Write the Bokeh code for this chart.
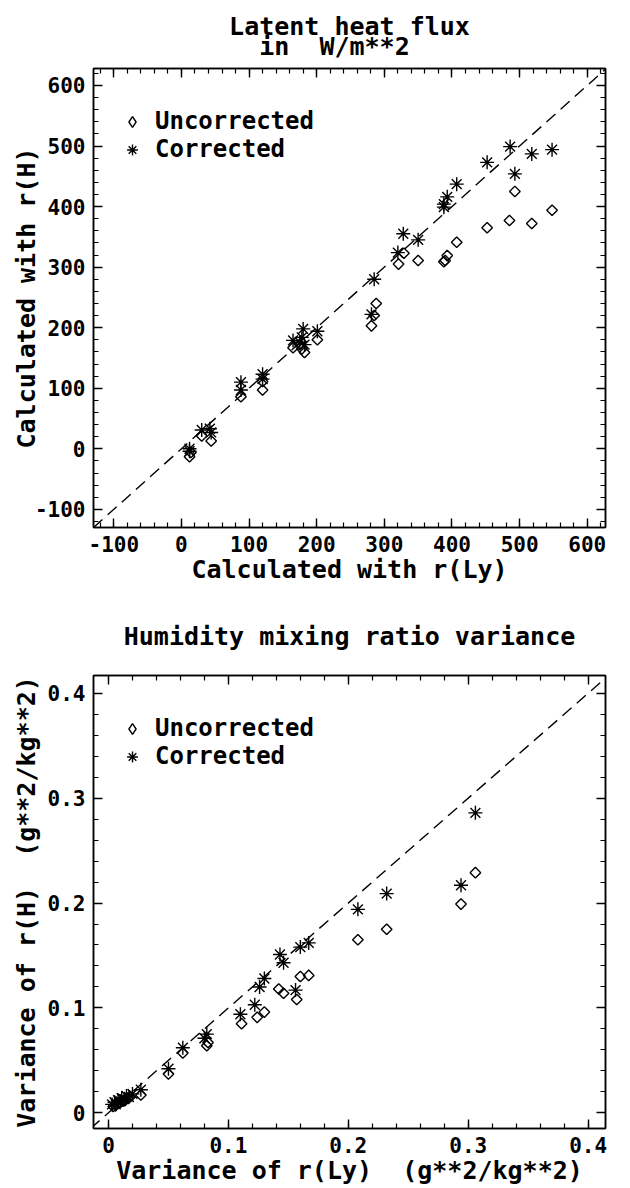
import numpy as np
from bokeh.plotting import figure
from bokeh.models import (Range1d, SingleIntervalTicker, LinearAxis, Slope, Legend,
                          LegendItem, Title, CustomJSTickFormatter)
from bokeh.layouts import column
from bokeh.embed import file_html
from bokeh.resources import INLINE

FONT = "DejaVu Sans Mono"
NB = "\u00a0"  # keeps the plotter's repeated spaces visible

# ---------------- data: latent heat flux (W/m**2) ----------------
flux_unc_x = [12, 14, 30, 44, 88, 120, 120, 165, 175, 178, 182, 201, 281, 285, 288,
              321, 329, 350, 388, 390, 393, 407, 452, 485, 493, 518, 548]
flux_unc_y = [-13, -6, 21, 13, 86, 97, 111, 167, 172, 165, 159, 180, 203, 220, 240,
              305, 323, 311, 309, 311, 319, 341, 365, 377, 425, 372, 394]
flux_corr_x = [12, 12, 30, 42, 44, 88, 88, 120, 120, 165, 175, 178, 180, 182, 201,
               281, 285, 320, 328, 350, 388, 388, 393, 407, 452, 486, 493, 518, 548]
flux_corr_y = [0, -4, 31, 33, 27, 110, 97, 123, 115, 179, 176, 184, 198, 172, 194,
               222, 280, 324, 355, 345, 399, 404, 416, 437, 473, 499, 454, 487, 494]

# ---------------- data: humidity mixing ratio variance (g**2/kg**2) ----------------
var_unc_x = [0.004, 0.006, 0.008, 0.010, 0.012, 0.014, 0.016, 0.018, 0.027, 0.050,
             0.062, 0.082, 0.083, 0.111, 0.124, 0.130, 0.142, 0.146, 0.157, 0.160,
             0.167, 0.208, 0.232, 0.294, 0.306]
var_unc_y = [0.006, 0.007, 0.009, 0.010, 0.011, 0.012, 0.014, 0.015, 0.017, 0.037,
             0.057, 0.064, 0.067, 0.085, 0.091, 0.096, 0.118, 0.114, 0.108, 0.130,
             0.131, 0.165, 0.175, 0.199, 0.229]
var_corr_x = [0.003, 0.005, 0.006, 0.008, 0.010, 0.011, 0.013, 0.015, 0.017, 0.020,
              0.027, 0.050, 0.062, 0.080, 0.082, 0.110, 0.122, 0.126, 0.130, 0.143,
              0.146, 0.156, 0.160, 0.167, 0.208, 0.232, 0.294, 0.306]
var_corr_y = [0.008, 0.010, 0.008, 0.012, 0.011, 0.014, 0.013, 0.016, 0.015, 0.018,
              0.022, 0.042, 0.062, 0.071, 0.075, 0.094, 0.103, 0.120, 0.128, 0.151,
              0.143, 0.117, 0.158, 0.162, 0.194, 0.209, 0.217, 0.286]

series_names = ["Uncorrected", "Corrected"]
top_title = "Latent heat flux\n" + NB * 2 + "in" + NB * 2 + "W/m**2"
top_xlabel = "Calculated with r(Ly)"
top_ylabel = "Calculated with r(H)"
bot_title = "Humidity mixing ratio variance"
bot_xlabel = "Variance of r(Ly) " + NB + "(g**2/kg**2)"
bot_ylabel = "Variance of r(H) " + NB + "(g**2/kg**2)"

NUM_FMT = "return String(Math.round(tick * 10000) / 10000);"
BLANK_FMT = "return '';"
LABEL_SIZE = "25px"


def style_axis(ax, interval, show_labels, label=None, standoff=0):
    ax.ticker = SingleIntervalTicker(interval=interval, num_minor_ticks=5)
    ax.axis_line_color = "black"
    ax.axis_line_width = 1.5
    ax.major_tick_in = 9
    ax.major_tick_out = 0
    ax.minor_tick_in = 5
    ax.minor_tick_out = 0
    ax.major_tick_line_color = "black"
    ax.minor_tick_line_color = "black"
    ax.major_tick_line_width = 1.4
    ax.minor_tick_line_width = 1.2
    ax.major_label_text_font = FONT
    ax.major_label_text_font_style = "bold"
    ax.major_label_text_color = "black"
    ax.major_label_text_font_size = "21px"
    if show_labels:
        ax.formatter = CustomJSTickFormatter(code=NUM_FMT)
        ax.major_label_standoff = 8
    else:
        ax.formatter = CustomJSTickFormatter(code=BLANK_FMT)
        ax.major_label_standoff = 0
    if label:
        ax.axis_label = label
        ax.axis_label_text_font = FONT
        ax.axis_label_text_font_size = LABEL_SIZE
        ax.axis_label_text_font_style = "bold"
        ax.axis_label_text_color = "black"
        ax.axis_label_standoff = standoff


def panel(height, xr, yr, interval, title_text, title_standoff, xlabel, ylabel, ylab_standoff,
          ux, uy, cx, cy, legend_y, btop, bbot):
    p = figure(width=630, height=height, x_range=Range1d(*xr), y_range=Range1d(*yr),
               output_backend="svg", toolbar_location=None,
               min_border_left=93, min_border_right=25,
               min_border_top=btop, min_border_bottom=bbot,
               x_axis_location=None, y_axis_location=None)
    p.grid.visible = False
    p.outline_line_color = "black"
    p.outline_line_width = 1.5
    p.background_fill_color = "white"
    p.border_fill_color = "white"

    xb = LinearAxis(); style_axis(xb, interval, True, xlabel, 0); p.add_layout(xb, "below")
    yl = LinearAxis(); style_axis(yl, interval, True, ylabel, ylab_standoff); p.add_layout(yl, "left")
    xt = LinearAxis(); style_axis(xt, interval, False); p.add_layout(xt, "above")
    yrt = LinearAxis(); style_axis(yrt, interval, False); p.add_layout(yrt, "right")

    title = Title(text=title_text, align="center", text_font=FONT, text_font_size=LABEL_SIZE,
                  text_font_style="bold", text_color="black", text_line_height=0.72,
                  standoff=title_standoff)
    p.add_layout(title, "above")

    p.add_layout(Slope(gradient=1, y_intercept=0, line_color="black",
                       line_width=1.4, line_dash="12 7"))

    p.scatter(ux, uy, marker="square", angle=np.pi / 4, size=7.5,
              fill_color=None, line_color="black", line_width=1.4)
    r_cor = p.scatter(cx, cy, marker="asterisk", size=14,
                      line_color="black", line_width=1.4)
    # legend key for the diamonds (drawn upright in the legend)
    r_unc_key = p.scatter(ux, uy, marker="diamond", size=13, visible=False,
                          fill_color=None, line_color="black", line_width=1.4)

    leg = Legend(items=[LegendItem(label=series_names[0], renderers=[r_unc_key]),
                        LegendItem(label=series_names[1], renderers=[r_cor])],
                 location=(24, legend_y), orientation="vertical",
                 border_line_color=None, background_fill_alpha=0,
                 padding=0, margin=0, spacing=0,
                 glyph_width=30, glyph_height=27, label_height=26,
                 label_standoff=8,
                 label_text_font=FONT, label_text_font_size="24px",
                 label_text_font_style="bold", label_text_color="black")
    p.add_layout(leg, "center")
    return p


p1 = panel(590, (-130, 627), (-130, 628), 100,
           top_title, 14, top_xlabel, top_ylabel, -9,
           flux_unc_x, flux_unc_y, flux_corr_x, flux_corr_y,
           364, 68, 63)
p2 = panel(598, (-0.0125, 0.4145), (-0.015, 0.417), 0.1,
           bot_title, 50, bot_xlabel, bot_ylabel, 4,
           var_unc_x, var_unc_y, var_corr_x, var_corr_y,
           358, 85, 60)

layout = column(p1, p2, spacing=0)
open("out.html", "w").write(file_html(layout, INLINE))
